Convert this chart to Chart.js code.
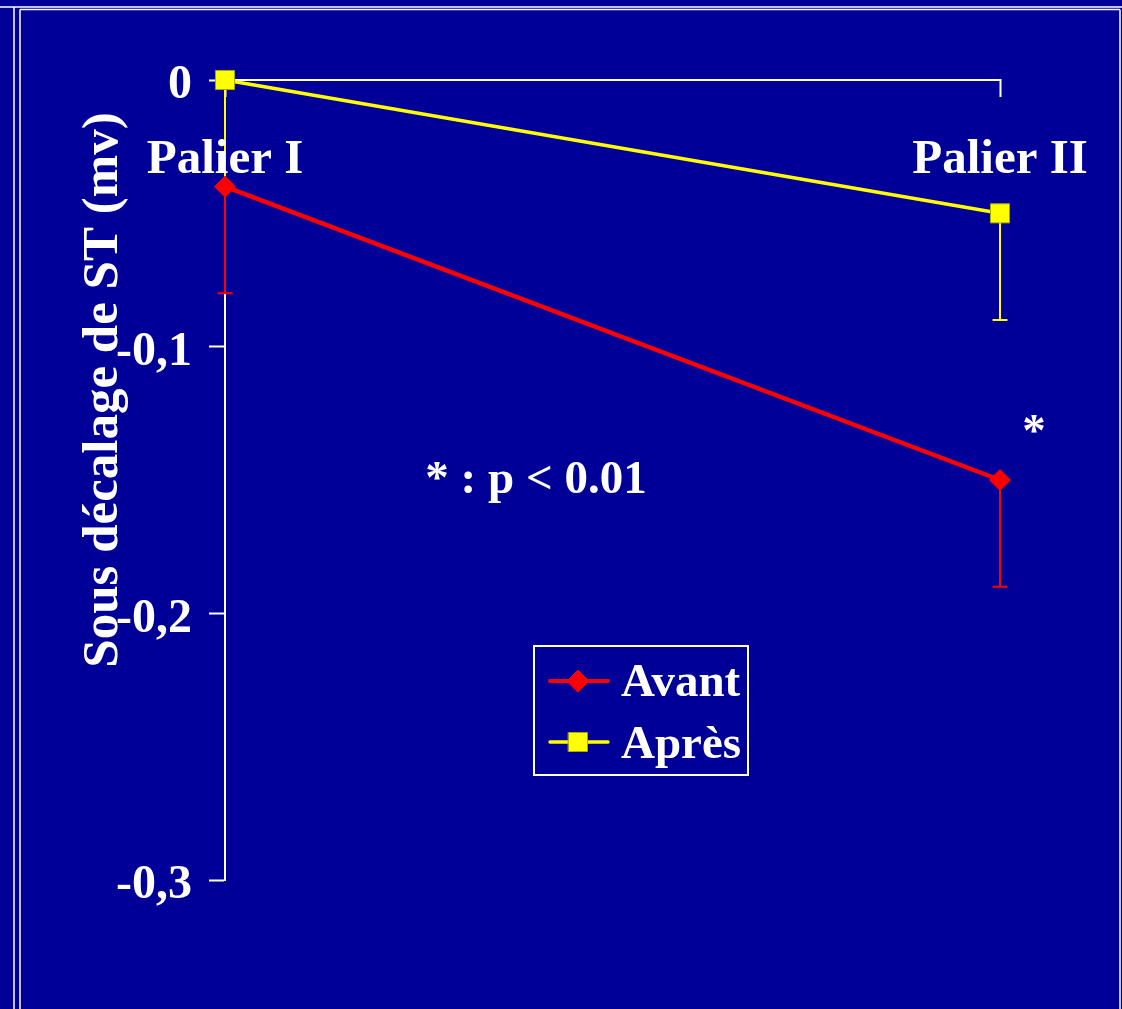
<!DOCTYPE html>
<html>
<head>
<meta charset="utf-8">
<script src="https://cdn.jsdelivr.net/npm/chart.js@4/dist/chart.umd.min.js"></script>
<style>
  html, body { margin: 0; padding: 0; background: #000099; overflow: hidden; }
  #wrap { position: relative; width: 1122px; height: 1009px; }
  canvas { display: block; }
</style>
</head>
<body>
<div id="wrap"><canvas id="c" width="1122" height="1009"></canvas></div>
<script>
// ---- Data ----
const categories = ['Palier I', 'Palier II'];
const seriesNames = ['Avant', 'Après'];
const avantValues = [-0.04, -0.15];
const avantLower = [-0.08, -0.19];
const apresValues = [0, -0.05];
const apresLower = [-0.04, -0.09];
const yTicks = [-0.3, -0.2, -0.1, 0];
const yTickLabels = ['-0,3', '-0,2', '-0,1', '0'];
const yTitle = 'Sous décalage de ST (mv)';
const noteText = '* : p < 0.01';
const starText = '*';

// ---- Styles ----
const FONT = '"Liberation Serif", "Times New Roman", Times, serif';
const BG = '#000099';
const RED = '#FF0000';
const YELLOW = '#FFFF00';
const WHITE = '#FFFFFF';

const bgPlugin = {
  id: 'bg',
  beforeDraw(chart) {
    const ctx = chart.ctx;
    ctx.save();
    ctx.fillStyle = BG;
    ctx.fillRect(0, 0, chart.width, chart.height);
    // slide frame lines
    ctx.strokeStyle = WHITE;
    ctx.lineWidth = 1.5;
    ctx.beginPath();
    ctx.moveTo(0, 7); ctx.lineTo(chart.width, 7);
    ctx.moveTo(20, 9.5); ctx.lineTo(1120, 9.5);
    ctx.moveTo(14, 7); ctx.lineTo(14, chart.height);
    ctx.moveTo(20, 9.5); ctx.lineTo(20, chart.height);
    ctx.moveTo(1120, 9.5); ctx.lineTo(1120, chart.height);
    ctx.stroke();
    ctx.restore();
  }
};

const errorPlugin = {
  id: 'errbars',
  beforeDatasetsDraw(chart) {
    const ctx = chart.ctx;
    const xs = chart.scales.x, ys = chart.scales.y;
    ctx.save();
    chart.data.datasets.forEach((ds) => {
      ctx.strokeStyle = ds.borderColor;
      ctx.lineWidth = 2;
      ds.data.forEach((v, j) => {
        const x = xs.getPixelForValue(j);
        const y0 = ys.getPixelForValue(v);
        const y1 = ys.getPixelForValue(ds.lower[j]);
        ctx.beginPath();
        ctx.moveTo(x, y0); ctx.lineTo(x, y1);
        ctx.moveTo(x - 7.5, y1); ctx.lineTo(x + 7.5, y1);
        ctx.stroke();
      });
    });
    ctx.restore();
  }
};

function drawDiamond(ctx, x, y, r, fill, stroke) {
  ctx.beginPath();
  ctx.moveTo(x - r, y); ctx.lineTo(x, y - r); ctx.lineTo(x + r, y); ctx.lineTo(x, y + r);
  ctx.closePath();
  ctx.fillStyle = fill; ctx.fill();
  ctx.strokeStyle = stroke; ctx.lineWidth = 1; ctx.stroke();
}
function drawSquare(ctx, x, y, h, fill, stroke) {
  ctx.beginPath();
  ctx.rect(x - h, y - h, 2 * h, 2 * h);
  ctx.fillStyle = fill; ctx.fill();
  ctx.strokeStyle = stroke; ctx.lineWidth = 1; ctx.stroke();
}

const textPlugin = {
  id: 'texts',
  afterDraw(chart) {
    const ctx = chart.ctx;
    const xs = chart.scales.x;
    ctx.save();
    ctx.fillStyle = WHITE;
    ctx.font = 'bold 49px ' + FONT;
    ctx.textBaseline = 'alphabetic';
    ctx.textAlign = 'center';
    // category labels under the top axis
    categories.forEach((c, i) => {
      ctx.fillText(c, xs.getPixelForValue(i), 173);
    });
    // annotations
    ctx.font = 'bold 47px ' + FONT;
    ctx.fillText(noteText, 536, 493);
    ctx.fillText(starText, 1034, 446);
    // y axis title
    ctx.save();
    ctx.translate(117, 390);
    ctx.rotate(-Math.PI / 2);
    ctx.font = 'bold 51px ' + FONT;
    ctx.textAlign = 'center';
    ctx.fillText(yTitle, 0, 0);
    ctx.restore();
    // legend
    ctx.strokeStyle = WHITE;
    ctx.lineWidth = 2;
    ctx.strokeRect(534, 646, 214, 129);
    const items = [
      { name: seriesNames[0], color: RED, y: 681, base: 696, marker: 'diamond', lw: 4 },
      { name: seriesNames[1], color: YELLOW, y: 742, base: 758, marker: 'square', lw: 3.5 }
    ];
    items.forEach((it) => {
      ctx.strokeStyle = it.color;
      ctx.lineWidth = it.lw;
      ctx.lineCap = 'round';
      ctx.beginPath(); ctx.moveTo(550, it.y); ctx.lineTo(608, it.y); ctx.stroke();
      if (it.marker === 'diamond') drawDiamond(ctx, 578, it.y, 11, RED, RED);
      else drawSquare(ctx, 578, it.y, 9.5, YELLOW, '#A8A800');
      ctx.fillStyle = WHITE;
      ctx.font = 'bold 47px ' + FONT;
      ctx.textAlign = 'left';
      ctx.fillText(it.name, 621, it.base);
    });
    ctx.restore();
  }
};

new Chart(document.getElementById('c').getContext('2d'), {
  type: 'line',
  data: {
    labels: categories,
    datasets: [
      {
        label: seriesNames[0], data: avantValues, lower: avantLower,
        borderColor: RED, backgroundColor: RED, borderWidth: 4.5,
        pointStyle: 'rectRot', pointRadius: 10.5, pointBorderWidth: 1,
        pointBackgroundColor: RED, pointBorderColor: RED,
        tension: 0, clip: false, order: 1
      },
      {
        label: seriesNames[1], data: apresValues, lower: apresLower,
        borderColor: YELLOW, backgroundColor: YELLOW, borderWidth: 3.5,
        pointStyle: 'rect', pointRadius: 13.5, pointBorderWidth: 1,
        pointBackgroundColor: YELLOW, pointBorderColor: '#A8A800',
        tension: 0, clip: false, order: 0
      }
    ]
  },
  options: {
    responsive: false,
    animation: false,
    events: [],
    layout: { padding: { left: 0, top: 80, right: 122, bottom: 129 } },
    plugins: { legend: { display: false }, tooltip: { enabled: false } },
    scales: {
      x: {
        type: 'category', position: 'top', offset: false,
        grid: { display: true, drawOnChartArea: false, drawTicks: true, tickLength: -17, tickColor: WHITE, tickWidth: 2 },
        border: { display: true, color: WHITE, width: 2 },
        ticks: { display: false },
        afterFit(s) { s.height = 0; }
      },
      y: {
        min: -0.3, max: 0, position: 'left',
        afterBuildTicks(s) { s.ticks = yTicks.map(v => ({ value: v })); },
        ticks: {
          color: WHITE, padding: 17, labelOffset: 6,
          font: { family: FONT, size: 48, weight: 'bold' },
          callback: (v) => yTickLabels[yTicks.findIndex(t => Math.abs(t - v) < 1e-9)]
        },
        grid: { display: true, drawOnChartArea: false, drawTicks: true, tickLength: 16, tickColor: WHITE, tickWidth: 2 },
        border: { display: true, color: WHITE, width: 2 },
        afterFit(s) { s.width = 225; }
      }
    }
  },
  plugins: [bgPlugin, errorPlugin, textPlugin]
});
</script>
</body>
</html>
